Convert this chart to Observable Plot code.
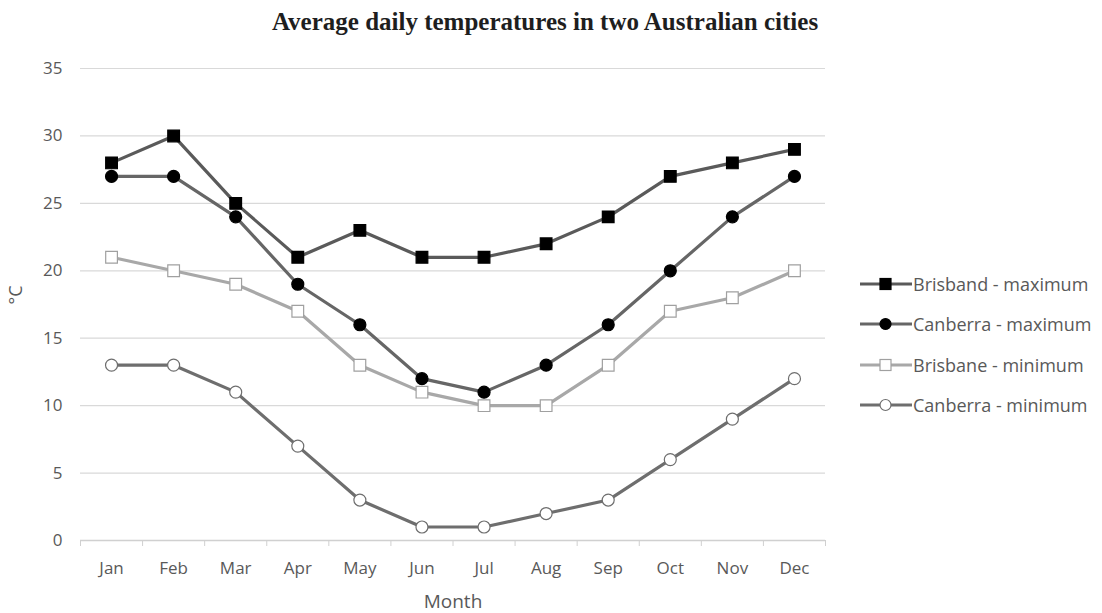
<!DOCTYPE html>
<html><head><meta charset="utf-8">
<script src="https://cdn.jsdelivr.net/npm/d3@7"></script>
<script src="https://cdn.jsdelivr.net/npm/@observablehq/plot@0.6"></script>
<style>
html,body{margin:0;padding:0;background:#fff}
body{width:1102px;height:613px;position:relative;overflow:hidden;font-family:"Open Sans",sans-serif}
#title{position:absolute;top:7px;left:0;width:1090px;text-align:center;font:bold 25px "Liberation Serif","Times New Roman",serif;color:#1e1e1e;line-height:30px}
#chart{position:absolute;top:40px;left:0}
#legend{position:absolute;left:860px;top:264px}
.item{display:flex;align-items:center;height:40.3px;font-size:18px;color:#595959;white-space:nowrap}
.item svg{margin-right:1px}
</style>
</head><body>
<div id="title">Average daily temperatures in two Australian cities</div>
<div id="chart"></div>
<div id="legend"></div>
<script>
const months = ["Jan","Feb","Mar","Apr","May","Jun","Jul","Aug","Sep","Oct","Nov","Dec"];
const seriesNames = ["Brisband - maximum","Canberra - maximum","Brisbane - minimum","Canberra - minimum"];
const brisbaneMax = [28,30,25,21,23,21,21,22,24,27,28,29];
const canberraMax = [27,27,24,19,16,12,11,13,16,20,24,27];
const brisbaneMin = [21,20,19,17,13,11,10,10,13,17,18,20];
const canberraMin = [13,13,11,7,3,1,1,2,3,6,9,12];
const yTicks = [0,5,10,15,20,25,30,35];

const seriesValues = [brisbaneMax, canberraMax, brisbaneMin, canberraMin];
const styles = [
  {line:"#5a5a5a", symbol:"square", fill:"#000", stroke:"#000", r:6.6},
  {line:"#666666", symbol:"circle", fill:"#000", stroke:"#000", r:6},
  {line:"#a8a8a8", symbol:"square", fill:"#fff", stroke:"#a0a0a0", r:6.6},
  {line:"#6e6e6e", symbol:"circle", fill:"#fff", stroke:"#6e6e6e", r:6}
];

const table = seriesNames.flatMap((name, s) => seriesValues[s].map((v, i) => ({series: name, s, i, month: months[i], value: v})));
const boundaries = d3.range(13).map(k => k - 0.5);

const seriesMarks = [];
for (let s = seriesNames.length - 1; s >= 0; s--) {
  const rows = table.filter(d => d.s === s);
  const st = styles[s];
  seriesMarks.push(Plot.line(rows, {x: "i", y: "value", stroke: st.line, strokeWidth: 3.2}));
  seriesMarks.push(Plot.dot(rows, {x: "i", y: "value", symbol: st.symbol, r: st.r, fill: st.fill, stroke: st.stroke, strokeWidth: 1.2}));
}

const chart = Plot.plot({
  width: 1102, height: 573,
  marginLeft: 80, marginRight: 277, marginTop: 28, marginBottom: 73,
  style: {fontFamily: "'Open Sans', sans-serif", fontSize: "17px", color: "#595959", background: "transparent"},
  x: {type: "linear", domain: [-0.5, 11.5], axis: null},
  y: {domain: [0, 35], axis: null},
  marks: [
    Plot.gridY(yTicks, {stroke: "#d9d9d9", strokeOpacity: 1, strokeWidth: 1.2}),
    Plot.ruleY([0], {stroke: "#d0d0d0", strokeWidth: 1.5}),
    Plot.axisY(yTicks, {tickSize: 0, tickPadding: 18, label: null, fill: "#595959", fontSize: 17}),
    Plot.axisX(d3.range(12), {tickSize: 0, tickPadding: 21, tickFormat: i => months[i], label: null, fill: "#595959", fontSize: 17}),
    Plot.axisX(boundaries, {tickSize: 6, stroke: "#d0d0d0", tickFormat: () => "", label: null}),
    ...seriesMarks,
    Plot.text(["°C"], {frameAnchor: "left", rotate: -90, dx: -64, fontSize: 18, fill: "#595959"}),
    Plot.text(["Month"], {frameAnchor: "bottom", dy: 67, fontSize: 19, fill: "#595959"})
  ]
});
document.getElementById("chart").appendChild(chart);

const legend = document.getElementById("legend");
seriesNames.forEach((name, s) => {
  const st = styles[s];
  const div = document.createElement("div");
  div.className = "item";
  const marker = st.symbol === "square"
    ? `<rect x="20" y="1.5" width="11" height="11" fill="${st.fill}" stroke="${st.stroke}" stroke-width="1.2"/>`
    : `<circle cx="25.5" cy="7" r="5.5" fill="${st.fill}" stroke="${st.stroke}" stroke-width="1.2"/>`;
  div.innerHTML = `<svg width="52" height="14"><line x1="0" x2="52" y1="7" y2="7" stroke="${st.line}" stroke-width="3.2"/>${marker}</svg><span>${name}</span>`;
  legend.appendChild(div);
});
</script>
</body></html>
